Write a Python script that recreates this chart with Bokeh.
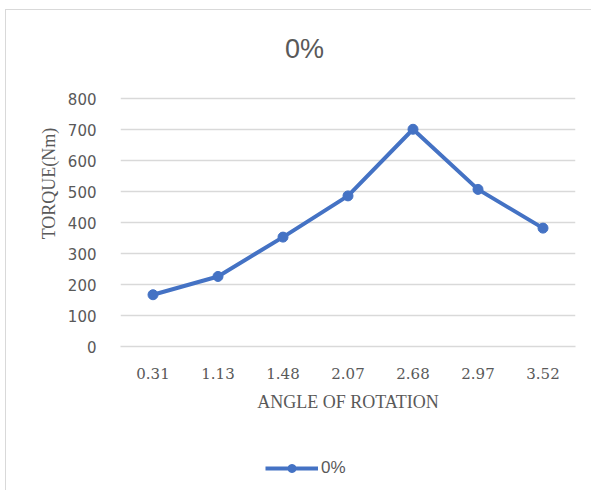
from bokeh.plotting import figure
from bokeh.layouts import column
from bokeh.models import FactorRange, Range1d, FixedTicker, Legend, LegendItem, Label, ColumnDataSource
from bokeh.embed import file_html
from bokeh.resources import INLINE

angles = ["0.31", "1.13", "1.48", "2.07", "2.68", "2.97", "3.52"]
torque = [167, 226, 353, 486, 701, 507, 382]
y_ticks = [0, 100, 200, 300, 400, 500, 600, 700, 800]
title_text = "0%"
series_name = "0%"

BLUE = "#4472C4"
GREY = "#595959"
GRID = "#d9d9d9"

src = ColumnDataSource(data=dict(x=angles, y=torque))

# the frame reaches up into the title area; ticks/grid stop at 800
p = figure(width=585, height=420, output_backend="svg", toolbar_location=None,
           x_range=FactorRange(factors=angles, range_padding=0),
           y_range=Range1d(0, 1052),
           min_border_left=114, min_border_right=16, min_border_top=10, min_border_bottom=84)
p.outline_line_color = None
p.background_fill_color = "white"
p.border_fill_color = "white"

line = p.line("x", "y", source=src, line_color=BLUE, line_width=4)
sc = p.scatter("x", "y", source=src, size=10, fill_color=BLUE, line_color=BLUE)

title = Label(x=164.5, y=297.5, x_units="screen", y_units="screen", text=title_text,
              text_align="left", text_baseline="middle", text_font="Liberation Sans",
              text_font_size="27px", text_color=GREY)
p.add_layout(title)

p.xgrid.grid_line_color = None
p.ygrid.grid_line_color = GRID
p.ygrid.grid_line_width = 1.5

p.yaxis.ticker = FixedTicker(ticks=y_ticks)
p.yaxis.axis_line_color = None
p.yaxis.major_tick_line_color = None
p.yaxis.minor_tick_line_color = None
p.yaxis.major_label_text_font = "DejaVu Sans"
p.yaxis.major_label_text_font_size = "15px"
p.yaxis.major_label_text_color = GREY
p.yaxis.major_label_standoff = 18
p.yaxis.axis_label = "TORQUE(Nm)"
p.yaxis.axis_label_text_font = "Liberation Serif"
p.yaxis.axis_label_text_font_style = "normal"
p.yaxis.axis_label_text_font_size = "18px"
p.yaxis.axis_label_text_color = GREY
p.yaxis.axis_label_standoff = 6

p.xaxis.axis_line_color = GRID
p.xaxis.axis_line_width = 1.5
p.xaxis.major_tick_line_color = None
p.xaxis.minor_tick_line_color = None
p.xaxis.major_label_text_font = "DejaVu Serif"
p.xaxis.major_label_text_font_size = "15px"
p.xaxis.major_label_text_color = GREY
p.xaxis.major_label_standoff = 15
p.xaxis.axis_label = "ANGLE OF ROTATION"
p.xaxis.axis_label_text_font = "Liberation Serif"
p.xaxis.axis_label_text_font_style = "normal"
p.xaxis.axis_label_text_font_size = "18px"
p.xaxis.axis_label_text_color = GREY
p.xaxis.axis_label_standoff = 10

# legend strip below the chart (series drawn out of view; only its legend shows)
lg = figure(width=585, height=60, output_backend="svg", toolbar_location=None,
            x_range=FactorRange(factors=angles, range_padding=0),
            y_range=Range1d(-2000, -1000),
            x_axis_location=None, y_axis_location=None,
            min_border_left=0, min_border_right=0, min_border_top=0, min_border_bottom=0)
lg.outline_line_color = None
lg.grid.grid_line_color = None
lg.background_fill_color = "white"
lg.border_fill_color = "white"
lg_line = lg.line("x", "y", source=src, line_color=BLUE, line_width=4)
lg_sc = lg.scatter("x", "y", source=src, size=10, fill_color=BLUE, line_color=BLUE)

legend = Legend(items=[LegendItem(label=series_name, renderers=[lg_line, lg_sc])],
                orientation="horizontal", location=(145, 12),
                border_line_color=None, background_fill_alpha=0,
                glyph_width=53, glyph_height=20, label_standoff=3,
                label_text_font="Liberation Sans", label_text_font_size="17px",
                label_text_color=GREY, margin=0, padding=0)
lg.add_layout(legend)

layout = column(p, lg, spacing=0,
                styles={"margin-left": "5px", "margin-top": "9px",
                        "border-left": "1.5px solid #d9d9d9", "border-top": "1.5px solid #d9d9d9"})

open("out.html", "w").write(file_html(layout, INLINE))
